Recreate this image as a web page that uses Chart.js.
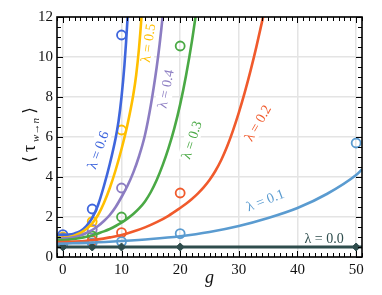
<!DOCTYPE html>
<html>
<head>
<meta charset="utf-8">
<script src="https://cdn.jsdelivr.net/npm/chart.js@4/dist/chart.umd.min.js"></script>
<style>
  html, body { margin: 0; padding: 0; background: #fff; }
  #wrap { width: 382px; height: 295px; }
</style>
</head>
<body>
<div id="wrap"><canvas id="tauChart"></canvas></div>
<script>
// tick labels
const xTicks = [0, 10, 20, 30, 40, 50];
const yTicks = [0, 2, 4, 6, 8, 10, 12];

// theory curves (g, <tau>)
const g00 = [-1, 0, 10, 20, 30, 40, 50, 51];
const tau00 = [0.5, 0.5, 0.5, 0.5, 0.5, 0.5, 0.5, 0.5];

const g01 = [-1, 0, 5, 10, 15, 20, 25, 30, 35, 40, 45, 50, 51];
const tau01 = [0.66, 0.67, 0.72, 0.8, 0.9, 1.04, 1.25, 1.55, 1.95, 2.45, 3.15, 4.1, 4.38];

const g02 = [-1, 0, 2, 4, 6, 8, 10, 12, 14, 16, 18, 20, 21, 22, 23, 24, 25, 26, 27, 28, 29, 30, 31, 32, 33, 34, 35];
const tau02 = [0.75, 0.75, 0.77, 0.81, 0.88, 0.98, 1.1, 1.27, 1.48, 1.74, 2.06, 2.45, 2.66, 2.9, 3.17, 3.48, 3.85, 4.3, 4.85, 5.52, 6.32, 7.22, 8.22, 9.32, 10.52, 11.82, 13.22];

const g03 = [-1, 0, 1, 2, 3, 4, 5, 6, 7, 8, 9, 10, 11, 12, 13, 14, 15, 16, 17, 18, 19, 20, 21, 22, 23];
const tau03 = [0.86, 0.85, 0.87, 0.9, 0.95, 1.01, 1.08, 1.18, 1.28, 1.4, 1.55, 1.72, 1.92, 2.15, 2.43, 2.78, 3.25, 3.85, 4.58, 5.43, 6.43, 7.63, 9.08, 10.78, 12.8];

const g04 = [-1, 0, 1, 2, 3, 4, 5, 6, 7, 8, 9, 10, 11, 12, 13, 14, 15, 16, 16.5, 17, 17.5];
const tau04 = [0.93, 0.92, 0.95, 1.0, 1.08, 1.2, 1.35, 1.55, 1.8, 2.1, 2.5, 3.0, 3.55, 4.22, 5.05, 6.1, 7.6, 9.5, 10.65, 12.0, 13.6];

const g05 = [-1, 0, 1, 2, 3, 4, 5, 6, 7, 8, 9, 10, 11, 12, 12.5, 13, 13.5, 14];
const tau05 = [0.96, 0.96, 1.0, 1.08, 1.2, 1.4, 1.68, 2.1, 2.7, 3.45, 4.35, 5.4, 6.6, 8.1, 9.1, 10.5, 12.4, 14.8];

const g06 = [-1, 0, 1, 2, 3, 4, 5, 6, 7, 8, 9, 9.5, 10, 10.5, 11, 11.5];
const tau06 = [1.12, 1.1, 1.12, 1.18, 1.3, 1.55, 1.95, 2.6, 3.55, 4.65, 5.95, 6.8, 8.0, 9.6, 11.8, 14.8];

// simulation markers at these g
const gSim = [0, 5, 10, 20, 50];
const sim00 = [0.5, 0.5, 0.5, 0.5, 0.5];
const sim01 = [0.65, 0.7, 0.77, 1.17, 5.7];
const sim02 = [0.78, 0.82, 1.22, 3.2, null];
const sim03 = [0.9, 1.05, 2.0, 10.55, null];
const sim04 = [0.95, 1.38, 3.45, null, null];
const sim05 = [1.0, 1.77, 6.35, null, null];
const sim06 = [1.12, 2.4, 11.1, null, null];

const lambdas = ['0.0', '0.1', '0.2', '0.3', '0.4', '0.5', '0.6'];
const colors = ['#2f4d4d', '#5a9bd0', '#f05a2c', '#4aa945', '#8c7dc2', '#ffbf00', '#3f66dd'];

const curveG = [g00, g01, g02, g03, g04, g05, g06];
const curveTau = [tau00, tau01, tau02, tau03, tau04, tau05, tau06];
const simTau = [sim00, sim01, sim02, sim03, sim04, sim05, sim06];

// label anchors in data units + rotation (deg)
const labelSpots = [
  { g: 44.55, tau: 0.93, rot: 0 },
  { g: 34.5, tau: 2.85, rot: -21 },
  { g: 33.2, tau: 6.7, rot: -60 },
  { g: 21.9, tau: 5.85, rot: -72 },
  { g: 17.5, tau: 8.4, rot: -79 },
  { g: 14.5, tau: 10.7, rot: -82 },
  { g: 5.96, tau: 5.35, rot: -70 }
];

const serif = "'Liberation Serif', 'DejaVu Serif', serif";

function pairs(xs, ys) {
  const out = [];
  for (let i = 0; i < xs.length; i++) {
    if (ys[i] !== null) out.push({ x: xs[i], y: ys[i] });
  }
  return out;
}

const datasets = [];
for (let i = 0; i < lambdas.length; i++) {
  datasets.push({
    label: 'theory ' + lambdas[i],
    data: pairs(curveG[i], curveTau[i]),
    showLine: true,
    borderColor: colors[i],
    borderWidth: i === 0 ? 3 : 2.6,
    pointRadius: 0,
    cubicInterpolationMode: 'monotone',
    fill: false
  });
}
for (let i = 0; i < lambdas.length; i++) {
  datasets.push({
    label: 'sim ' + lambdas[i],
    data: pairs(gSim, simTau[i]),
    showLine: false,
    borderColor: colors[i],
    backgroundColor: i === 0 ? colors[i] : 'transparent',
    pointStyle: i === 0 ? 'rectRot' : 'circle',
    pointRadius: i === 0 ? 4 : 4.5,
    borderWidth: i === 0 ? 1 : 1.8
  });
}

// frame, inward ticks, titles and lambda labels
const decorPlugin = {
  id: 'decor',
  beforeDatasetsDraw(chart) {
    const ctx = chart.ctx;
    const xs = chart.scales.x, ys = chart.scales.y;
    ctx.save();
    ctx.font = '14px ' + serif;
    ctx.textAlign = 'center';
    ctx.textBaseline = 'middle';
    labelSpots.forEach((s, i) => {
      const txt = 'λ = ' + lambdas[i];
      const w = ctx.measureText(txt).width;
      ctx.save();
      ctx.translate(xs.getPixelForValue(s.g), ys.getPixelForValue(s.tau));
      ctx.rotate(s.rot * Math.PI / 180);
      ctx.fillStyle = '#fff';
      ctx.fillRect(-w / 2 - 2, -8, w + 4, 16);
      ctx.fillStyle = colors[i];
      ctx.fillText(txt, 0, 1);
      ctx.restore();
    });
    ctx.restore();
  },
  afterDraw(chart) {
    const ctx = chart.ctx;
    const a = chart.chartArea;
    const xs = chart.scales.x, ys = chart.scales.y;
    ctx.save();
    ctx.strokeStyle = '#000';
    ctx.lineWidth = 1;
    ctx.beginPath();
    // x ticks, top and bottom
    for (let v = -1; v <= 51; v++) {
      const len = v % 10 === 0 ? 6 : 4;
      const px = Math.round(xs.getPixelForValue(v)) + 0.5;
      ctx.moveTo(px, a.bottom); ctx.lineTo(px, a.bottom - len);
      ctx.moveTo(px, a.top); ctx.lineTo(px, a.top + len);
    }
    // y ticks, left and right
    for (let v = 0; v <= 12; v += 0.5) {
      const len = v % 2 === 0 ? 6 : 4;
      const py = Math.round(ys.getPixelForValue(v)) + 0.5;
      ctx.moveTo(a.left, py); ctx.lineTo(a.left + len, py);
      ctx.moveTo(a.right, py); ctx.lineTo(a.right - len, py);
    }
    ctx.stroke();
    ctx.lineWidth = 1.6;
    ctx.strokeRect(a.left, a.top, a.right - a.left, a.bottom - a.top);

    // x title
    ctx.fillStyle = '#111';
    ctx.font = 'italic 18px ' + serif;
    ctx.textAlign = 'center';
    ctx.textBaseline = 'alphabetic';
    ctx.fillText('g', (a.left + a.right) / 2, 283);

    // y title: < tau_{w->n} >
    ctx.translate(35, (a.top + a.bottom) / 2 - 2);
    ctx.rotate(-Math.PI / 2);
    const parts = [
      { t: '⟨ ', f: '17px ' + serif, dy: 0 },
      { t: 'τ', f: '18px ' + serif, dy: 0 },
      { t: ' w→n', f: 'italic 11px ' + serif, dy: 4 },
      { t: ' ⟩', f: '17px ' + serif, dy: 0 }
    ];
    let total = 0;
    parts.forEach(p => { ctx.font = p.f; p.w = ctx.measureText(p.t).width; total += p.w; });
    let cx = -total / 2;
    ctx.textAlign = 'left';
    parts.forEach(p => {
      ctx.font = p.f;
      ctx.fillText(p.t, cx, p.dy);
      cx += p.w;
    });
    ctx.restore();
  }
};

new Chart(document.getElementById('tauChart'), {
  type: 'scatter',
  data: { datasets: datasets },
  options: {
    responsive: true,
    maintainAspectRatio: false,
    animation: false,
    layout: { padding: { top: 17, right: 20, left: 0, bottom: 0 } },
    plugins: {
      legend: { display: false },
      tooltip: { enabled: false }
    },
    scales: {
      x: {
        type: 'linear',
        min: -1,
        max: 51,
        afterBuildTicks: s => { s.ticks = xTicks.map(v => ({ value: v })); },
        afterFit: s => { s.height = 38; },
        grid: { color: '#e4e4e4', lineWidth: 1.5, drawTicks: false },
        border: { display: false },
        ticks: { color: '#111', padding: 4, maxRotation: 0, font: { family: serif, size: 15 } }
      },
      y: {
        type: 'linear',
        min: 0,
        max: 12,
        afterBuildTicks: s => { s.ticks = yTicks.map(v => ({ value: v })); },
        afterFit: s => { s.width = 57; },
        grid: { color: '#e4e4e4', lineWidth: 1.5, drawTicks: false },
        border: { display: false },
        ticks: { color: '#111', padding: 4, font: { family: serif, size: 15 } }
      }
    }
  },
  plugins: [decorPlugin]
});
</script>
</body>
</html>
